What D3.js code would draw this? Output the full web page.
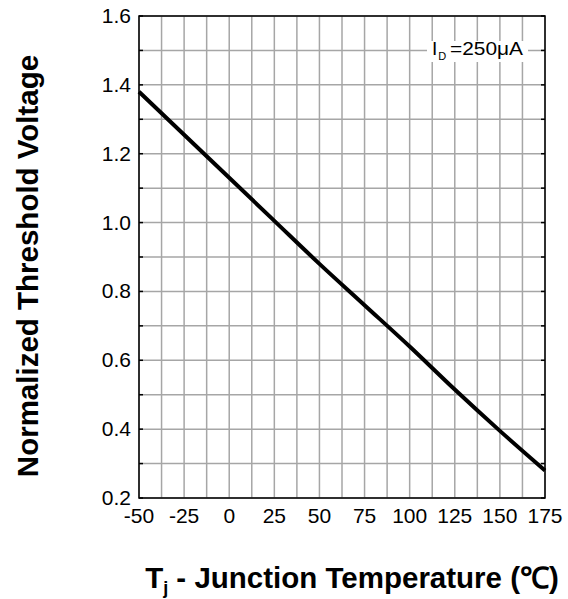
<!DOCTYPE html>
<html>
<head>
<meta charset="utf-8">
<style>
  body { margin: 0; background: white; }
  svg { display: block; font-family: "Liberation Sans", Arial, sans-serif; }
  .grid line { stroke: #a6a6a6; stroke-width: 1.5; }
  .tick-label { font-size: 21px; fill: #000; }
</style>
</head>
<body>
<script src="https://cdn.jsdelivr.net/npm/d3@7/dist/d3.min.js"></script>
<script>
  // data
  const temps = [-50, -25, 0, 25, 50, 75, 100, 125, 150, 175];
  const vth = [1.38, 1.255, 1.13, 1.005, 0.88, 0.76, 0.64, 0.515, 0.395, 0.28];
  const xTicks = [-50, -25, 0, 25, 50, 75, 100, 125, 150, 175];
  const yTicks = [0.2, 0.4, 0.6, 0.8, 1.0, 1.2, 1.4, 1.6];

  const w = 568, h = 599;
  const pl = 139, pr = 545, pt = 16, pb = 498;

  const x = d3.scaleLinear().domain([-50, 175]).range([pl, pr]);
  const y = d3.scaleLinear().domain([0.2, 1.6]).range([pb, pt]);

  const svg = d3.select("body").append("svg")
    .attr("width", w)
    .attr("height", h);

  // grid, every 12.5 degC and every 0.1
  const gx = d3.range(-50, 175.01, 12.5);
  const gy = d3.range(2, 16.01, 1).map(d => d / 10);
  const grid = svg.append("g").attr("class", "grid");
  grid.selectAll(".vx").data(gx).enter().append("line")
    .attr("x1", d => x(d)).attr("x2", d => x(d))
    .attr("y1", pt).attr("y2", pb);
  grid.selectAll(".hy").data(gy).enter().append("line")
    .attr("x1", pl).attr("x2", pr)
    .attr("y1", d => y(d)).attr("y2", d => y(d));

  // small inner ticks on left / right frame
  const ticks = svg.append("g").attr("stroke", "#000").attr("stroke-width", 1.5);
  ticks.selectAll(".tl").data(gy).enter().append("line")
    .attr("x1", pl).attr("x2", pl + 4)
    .attr("y1", d => y(d)).attr("y2", d => y(d));
  ticks.selectAll(".tr").data(gy).enter().append("line")
    .attr("x1", pr - 4).attr("x2", pr)
    .attr("y1", d => y(d)).attr("y2", d => y(d));

  // frame
  svg.append("rect")
    .attr("x", pl).attr("y", pt)
    .attr("width", pr - pl).attr("height", pb - pt)
    .attr("fill", "none").attr("stroke", "#000").attr("stroke-width", 1.5);

  // the curve
  const line = d3.line()
    .x((d, i) => x(temps[i]))
    .y(d => y(d))
    .curve(d3.curveMonotoneX);
  svg.append("path")
    .datum(vth)
    .attr("d", line)
    .attr("fill", "none")
    .attr("stroke", "#000")
    .attr("stroke-width", 4);

  // legend box
  svg.append("rect")
    .attr("x", 427).attr("y", 41)
    .attr("width", 101).attr("height", 21)
    .attr("fill", "white");
  const leg = svg.append("text")
    .attr("x", 432).attr("y", 55)
    .attr("font-size", 19);
  leg.append("tspan").text("I");
  leg.append("tspan").attr("font-size", 11).attr("dy", 5).attr("dx", 1).text("D");
  leg.append("tspan").attr("x", 450).attr("dy", -5).attr("textLength", 73)
    .attr("lengthAdjust", "spacingAndGlyphs").text("=250\u03bcA");

  // tick labels
  svg.selectAll(".xl").data(xTicks).enter().append("text")
    .attr("class", "tick-label")
    .attr("x", d => x(d)).attr("y", pb + 25)
    .attr("text-anchor", "middle")
    .text(d => d);
  svg.selectAll(".yl").data(yTicks).enter().append("text")
    .attr("class", "tick-label")
    .attr("x", pl - 8).attr("y", d => y(d) + 7)
    .attr("text-anchor", "end")
    .text(d => d.toFixed(1));

  // axis titles
  svg.append("text")
    .attr("transform", "translate(38,266) rotate(-90)")
    .attr("text-anchor", "middle")
    .attr("font-size", 29.5).attr("font-weight", "bold")
    .text("Normalized Threshold Voltage");

  const xt = svg.append("text")
    .attr("x", 352).attr("y", 588)
    .attr("text-anchor", "middle")
    .attr("font-size", 29.5).attr("font-weight", "bold");
  xt.append("tspan").text("T");
  xt.append("tspan").attr("font-size", 18).attr("dy", 6).text("j");
  xt.append("tspan").attr("dy", -6).text(" - Junction Temperature (\u2103)");
</script>
</body>
</html>
